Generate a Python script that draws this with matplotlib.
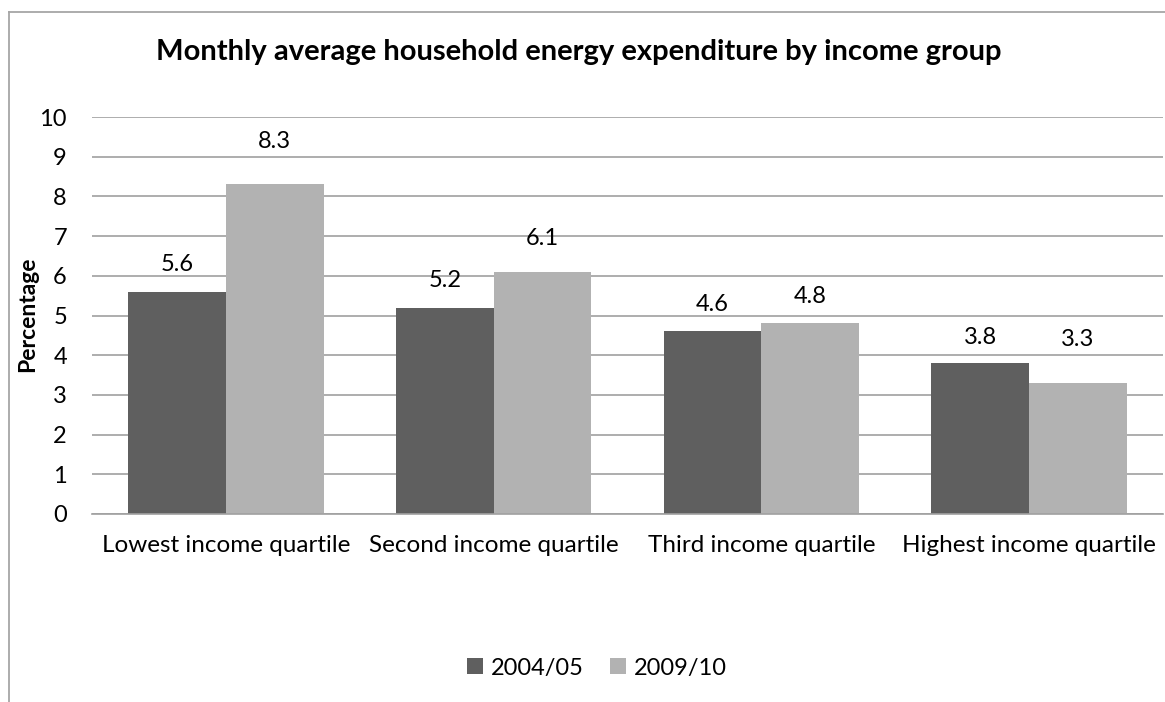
import matplotlib
matplotlib.use("Agg")
import matplotlib.pyplot as plt
import numpy as np
from matplotlib.lines import Line2D

# data
categories = ["Lowest income quartile", "Second income quartile",
              "Third income quartile", "Highest income quartile"]
y2004 = [5.6, 5.2, 4.6, 3.8]
y2009 = [8.3, 6.1, 4.8, 3.3]
series_names = ["2004/05", "2009/10"]

# label distance above bar top (pixels), as placed in the original
lab_off_2004 = [27, 27, 27, 26]
lab_off_2009 = [43, 33, 27, 43]

plt.rcParams['font.family'] = ['Lato', 'DejaVu Sans']

W, H = 1165, 702
fig = plt.figure(figsize=(W / 100, H / 100), dpi=100)

# chart border (left and top visible)
fig.add_artist(Line2D([8.5 / W, 8.5 / W], [0, 1 - 12 / H], color="#a6a6a6", lw=1.3))
fig.add_artist(Line2D([8.5 / W, 1], [1 - 12 / H, 1 - 12 / H], color="#a6a6a6", lw=1.3))

ax = fig.add_axes([92 / W, 1 - 514 / H, (1163 - 92) / W, (514 - 117) / H])

x = np.arange(len(categories))
bw = 0.365
b1 = ax.bar(x - bw / 2, y2004, bw, color="#5f5f5f", label=series_names[0])
b2 = ax.bar(x + bw / 2, y2009, bw, color="#b2b2b2", label=series_names[1])

for bars, vals, offs in [(b1, y2004, lab_off_2004), (b2, y2009, lab_off_2009)]:
    for b, v, o in zip(bars, vals, offs):
        ax.annotate(f"{v:.1f}", (b.get_x() + b.get_width() / 2, v),
                    xytext=(0, o * 0.72), textcoords="offset points",
                    ha="center", va="center", fontsize=17)

ax.set_xlim(-0.5, 3.5)
ax.set_ylim(0, 10)
ax.set_yticks(range(0, 11))
ax.set_xticks(x)
ax.set_xticklabels(categories, fontsize=17.5)
ax.tick_params(axis="y", labelsize=17, length=0, pad=18)
ax.tick_params(axis="x", length=0, pad=15)
ax.grid(axis="y", color="#a0a0a0", lw=1.2)
ax.set_axisbelow(True)
for s in ["top", "right", "left"]:
    ax.spines[s].set_visible(False)
ax.spines["bottom"].set_color("#a0a0a0")
ax.spines["bottom"].set_linewidth(1.2)

fig.text(28 / W, 1 - 314 / H, "Percentage", rotation=90, ha="center", va="center",
         fontsize=16.5, fontweight="bold")
fig.text(579 / W, 1 - 52 / H, "Monthly average household energy expenditure by income group",
         ha="center", va="center", fontsize=21, fontweight="bold")

fig.legend(handles=[b1, b2], labels=series_names, loc="center",
           bbox_to_anchor=(597 / W, 1 - 668 / H), ncol=2, frameon=False,
           fontsize=17, handlelength=0.66, handleheight=0.66, handletextpad=0.35,
           columnspacing=1.1)

fig.savefig("out.png", dpi=100)
